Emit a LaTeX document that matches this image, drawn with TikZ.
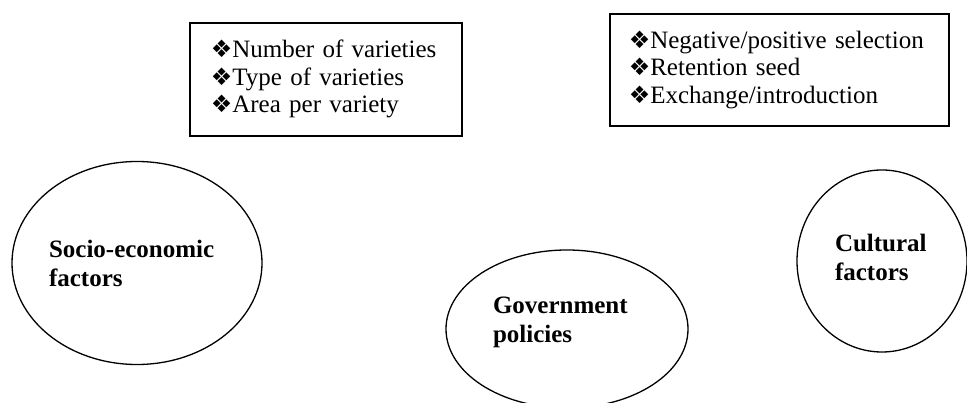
\documentclass[tikz,border=0pt]{standalone}
\usepackage{fontspec}
\setmainfont{Liberation Serif}
\newfontfamily\dingfont{DejaVu Sans}
\usepackage{tikz}
\usetikzlibrary{shapes.geometric}
\newcommand{\diabullet}{{\dingfont\fontsize{24}{24}\selectfont\char"2756}}
\tikzset{
    list-box/.style = {draw=black, line width=1.6pt, rectangle, anchor=north west, align=left, inner ysep=0pt, font=\fontsize{25}{27.5}\selectfont},
    factor-ellipse/.style = {draw=black, line width=1.3pt, ellipse, inner sep=0pt, align=left, font=\fontsize{25}{29}\selectfont\bfseries},
}

\begin{document}
\begin{tikzpicture}[x=1pt, y=-1pt]
\useasboundingbox (0,0) rectangle (967,403);
\node[list-box, minimum width=272pt, minimum height=113pt, text width=230pt, inner xsep=21pt] (varieties) at (189,22)
    {\diabullet Number of varieties\\ \diabullet Type of varieties\\ \diabullet Area per variety};
\node[list-box, minimum width=339pt, minimum height=112pt, text width=301pt, inner xsep=19pt] (selection) at (609,13)
    {\diabullet Negative/positive selection\\ \diabullet Retention seed\\ \diabullet Exchange/introduction};
\node[factor-ellipse, minimum width=250pt, minimum height=203pt, text width=176pt] (socio) at (137,263) {Socio-economic\\factors};
\node[factor-ellipse, minimum width=242pt, minimum height=158pt, text width=148pt] (government) at (567,329) {Government\\policies\par\kern14pt};
\node[factor-ellipse, minimum width=170pt, minimum height=182pt, text width=94pt] (cultural) at (882,261) {Cultural\\factors\par\kern8pt};
\end{tikzpicture}
\end{document}
